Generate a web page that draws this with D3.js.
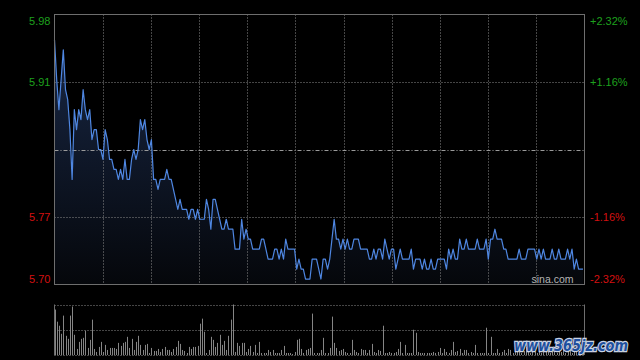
<!DOCTYPE html>
<html>
<head>
<meta charset="utf-8">
<script src="https://cdn.jsdelivr.net/npm/d3@7"></script>
<style>
  html, body { margin: 0; padding: 0; background: #000; }
  svg { display: block; }
</style>
</head>
<body>
<div id="chart"></div>
<script>
// previous close and percentage ticks (left labels are the prices for these)
const prevClose = 5.84
const pctTicks = [2.32, 1.16, -1.16, -2.32]

// one price per minute, 241 minutes
const prices = [
  5.95, 5.91, 5.88, 5.91, 5.94, 5.90, 5.89, 5.86, 5.81, 5.88,
  5.86, 5.88, 5.87, 5.90, 5.88, 5.87, 5.88, 5.85, 5.86, 5.86,
  5.84, 5.84, 5.83, 5.86, 5.85, 5.83, 5.83, 5.82, 5.82, 5.81,
  5.82, 5.81, 5.83, 5.81, 5.81, 5.83, 5.84, 5.83, 5.84, 5.87,
  5.86, 5.87, 5.85, 5.84, 5.85, 5.81, 5.81, 5.80, 5.81, 5.81,
  5.81, 5.82, 5.81, 5.81, 5.80, 5.79, 5.78, 5.79, 5.78, 5.78,
  5.78, 5.77, 5.78, 5.78, 5.77, 5.78, 5.77, 5.77, 5.77, 5.79,
  5.78, 5.76, 5.79, 5.79, 5.78, 5.77, 5.76, 5.76, 5.77, 5.76,
  5.76, 5.76, 5.74, 5.74, 5.74, 5.77, 5.75, 5.76, 5.75, 5.75,
  5.74, 5.74, 5.74, 5.74, 5.75, 5.75, 5.74, 5.73, 5.73, 5.73,
  5.74, 5.74, 5.73, 5.74, 5.73, 5.75, 5.74, 5.74, 5.74, 5.74,
  5.72, 5.73, 5.72, 5.72, 5.71, 5.71, 5.71, 5.73, 5.73, 5.73,
  5.72, 5.71, 5.73, 5.73, 5.72, 5.73, 5.75, 5.77, 5.75, 5.75,
  5.74, 5.75, 5.74, 5.75, 5.74, 5.74, 5.75, 5.75, 5.75, 5.74,
  5.74, 5.74, 5.74, 5.73, 5.73, 5.74, 5.73, 5.74, 5.74, 5.73,
  5.75, 5.74, 5.73, 5.74, 5.74, 5.72, 5.73, 5.74, 5.73, 5.73,
  5.73, 5.73, 5.74, 5.72, 5.73, 5.73, 5.73, 5.72, 5.73, 5.72,
  5.72, 5.73, 5.72, 5.72, 5.73, 5.73, 5.73, 5.73, 5.72, 5.74,
  5.73, 5.74, 5.73, 5.73, 5.75, 5.74, 5.74, 5.75, 5.74, 5.74,
  5.74, 5.74, 5.75, 5.74, 5.74, 5.74, 5.75, 5.73, 5.75, 5.75,
  5.76, 5.75, 5.75, 5.75, 5.74, 5.74, 5.73, 5.73, 5.73, 5.73,
  5.73, 5.74, 5.73, 5.73, 5.73, 5.74, 5.74, 5.74, 5.74, 5.73,
  5.74, 5.73, 5.74, 5.73, 5.73, 5.73, 5.74, 5.73, 5.73, 5.74,
  5.73, 5.73, 5.73, 5.74, 5.73, 5.74, 5.72, 5.73, 5.72, 5.72,
  5.72
]

// volume per minute (relative units)
const volumes = [
  45, 33, 29, 21, 39, 19, 16, 39, 48, 20,
  6, 13, 16, 17, 24, 7, 15, 35, 6, 3,
  8, 13, 3, 10, 5, 7, 7, 7, 6, 12,
  9, 12, 13, 18, 7, 16, 5, 13, 19, 10,
  5, 10, 11, 2, 7, 4, 4, 6, 3, 6,
  8, 5, 5, 3, 6, 8, 14, 11, 5, 4,
  2, 8, 6, 8, 8, 9, 31, 36, 23, 2,
  5, 18, 15, 8, 12, 20, 10, 14, 5, 19,
  35, 50, 3, 12, 9, 12, 12, 3, 6, 9,
  3, 10, 2, 13, 2, 2, 2, 5, 3, 5,
  2, 2, 2, 5, 9, 2, 2, 2, 1, 3,
  15, 16, 6, 2, 5, 6, 7, 41, 2, 2,
  2, 5, 17, 2, 2, 7, 38, 12, 7, 4,
  5, 6, 3, 2, 2, 15, 5, 3, 2, 6,
  5, 5, 2, 5, 11, 3, 2, 5, 4, 29,
  2, 2, 3, 2, 2, 3, 6, 13, 2, 10,
  2, 2, 2, 25, 22, 3, 2, 2, 2, 2,
  2, 2, 3, 2, 3, 7, 2, 6, 3, 2,
  5, 13, 3, 4, 6, 2, 5, 5, 2, 3,
  2, 10, 2, 2, 2, 2, 27, 2, 18, 2,
  2, 6, 2, 3, 5, 2, 6, 5, 2, 3,
  3, 5, 2, 4, 8, 3, 2, 6, 3, 2,
  5, 2, 4, 3, 6, 2, 3, 5, 2, 4,
  3, 7, 2, 3, 5, 2, 4, 6, 3, 5,
  9
]

const width = 640
const height = 360
const plotLeft = 54.5, plotRight = 584.5
const plotTop = 14.5, plotBottom = 284.5
const volTop = 304.5, volBottom = 355

const svg = d3.select("#chart").append("svg")
  .attr("width", width)
  .attr("height", height)
  .style("background", "#000")

const x = d3.scaleLinear() // minute index -> x
  .domain([0, prices.length - 1])
  .range([plotLeft, 583])

const y = d3.scaleLinear() // price -> y, symmetric around previous close
  .domain([prevClose * (1 - pctTicks[0] / 100), prevClose * (1 + pctTicks[0] / 100)])
  .range([plotBottom, plotTop])

const yVol = d3.scaleLinear()
  .domain([0, d3.max(volumes)])
  .range([volBottom, volTop])

const pctToPrice = (p) => prevClose * (1 + p / 100)

// gradient under the price line
const grad = svg.append("defs").append("linearGradient")
  .attr("id", "areaFill")
  .attr("gradientUnits", "userSpaceOnUse")
  .attr("x1", 0).attr("y1", plotTop)
  .attr("x2", 0).attr("y2", plotBottom)
grad.append("stop").attr("offset", "0%").attr("stop-color", "#1a2a4a")
grad.append("stop").attr("offset", "100%").attr("stop-color", "#05070b")

// AREA + LINE
svg.append("path")
  .datum(prices)
  .attr("fill", "url(#areaFill)")
  .attr("d", d3.area()
    .x((d, i) => x(i))
    .y0(plotBottom)
    .y1((d) => y(d)))

// vertical grid
const cols = 11
const colStep = (plotRight - plotLeft) / cols
svg.append("g").selectAll("line")
  .data(d3.range(1, cols))
  .enter().append("line")
  .attr("x1", (k) => Math.round(plotLeft + k * colStep) + 0.5)
  .attr("x2", (k) => Math.round(plotLeft + k * colStep) + 0.5)
  .attr("y1", plotTop)
  .attr("y2", plotBottom)
  .attr("stroke", "#8a8a8a")
  .attr("stroke-dasharray", "1,2")

// horizontal dotted grid at +-1.16%
svg.append("g").selectAll("line")
  .data(pctTicks.filter((p) => Math.abs(p) < pctTicks[0]))
  .enter().append("line")
  .attr("x1", plotLeft)
  .attr("x2", plotRight)
  .attr("y1", (p) => Math.round(y(pctToPrice(p))) + 0.5)
  .attr("y2", (p) => Math.round(y(pctToPrice(p))) + 0.5)
  .attr("stroke", "#8a8a8a")
  .attr("stroke-dasharray", "1,2")

// previous close line
svg.append("line")
  .attr("x1", plotLeft)
  .attr("x2", plotRight)
  .attr("y1", Math.round(y(prevClose)) + 0.5)
  .attr("y2", Math.round(y(prevClose)) + 0.5)
  .attr("stroke", "#9a9a9a")
  .attr("stroke-dasharray", "4,2,1,2")

svg.append("path")
  .datum(prices)
  .attr("fill", "none")
  .attr("stroke", "#4f87e2")
  .attr("stroke-width", 1.2)
  .attr("stroke-linejoin", "round")
  .attr("d", d3.line()
    .x((d, i) => x(i))
    .y((d) => y(d)))

// frame
svg.append("rect")
  .attr("x", plotLeft).attr("y", plotTop)
  .attr("width", plotRight - plotLeft)
  .attr("height", plotBottom - plotTop)
  .attr("fill", "none")
  .attr("stroke", "#6e6e6e")

// LABELS
const labelY = (p) => {
  const ly = y(pctToPrice(p))
  if (p === pctTicks[0]) return ly + 10
  if (p === pctTicks[pctTicks.length - 1]) return ly - 1.5
  return ly + 4
}
const labelColor = (p) => p > 0 ? "#1ea01e" : "#d41010"

svg.append("g").selectAll("text")
  .data(pctTicks)
  .enter().append("text")
  .attr("x", 50.5)
  .attr("y", labelY)
  .attr("text-anchor", "end")
  .attr("font-family", "Arial, 'Liberation Sans', sans-serif")
  .attr("font-size", 11)
  .attr("fill", labelColor)
  .text((p) => pctToPrice(p).toFixed(2))

svg.append("g").selectAll("text")
  .data(pctTicks)
  .enter().append("text")
  .attr("x", 590)
  .attr("y", labelY)
  .attr("font-family", "Arial, 'Liberation Sans', sans-serif")
  .attr("font-size", 11)
  .attr("fill", labelColor)
  .text((p) => (p > 0 ? "+" : "") + p.toFixed(2) + "%")

svg.append("text")
  .attr("x", 573.5)
  .attr("y", 283)
  .attr("text-anchor", "end")
  .attr("font-family", "Arial, 'Liberation Sans', sans-serif")
  .attr("font-size", 10.5)
  .attr("fill", "#b4b4b4")
  .text("sina.com")

// VOLUME PANEL
;[volTop, (volTop + volBottom) / 2, volBottom].forEach((ly) => {
  svg.append("line")
    .attr("x1", plotLeft).attr("x2", plotRight)
    .attr("y1", Math.round(ly) + 0.5).attr("y2", Math.round(ly) + 0.5)
    .attr("stroke", "#8a8a8a")
    .attr("stroke-dasharray", "1,2")
})
;[plotLeft, plotRight].forEach((lx) => {
  svg.append("line")
    .attr("x1", lx).attr("x2", lx)
    .attr("y1", volTop).attr("y2", volBottom)
    .attr("stroke", "#6e6e6e")
})

svg.append("g").selectAll("rect")
  .data(volumes)
  .enter().append("rect")
  .attr("x", (d, i) => Math.round(x(i)))
  .attr("y", (d) => yVol(d))
  .attr("width", 1)
  .attr("height", (d) => volBottom - yVol(d))
  .attr("fill", "#858585")

// watermark
svg.append("text")
  .attr("x", 514)
  .attr("y", 351)
  .attr("textLength", 114)
  .attr("lengthAdjust", "spacingAndGlyphs")
  .attr("font-family", "'DejaVu Sans', sans-serif")
  .attr("font-size", 16)
  .attr("font-weight", "bold")
  .attr("font-style", "italic")
  .attr("fill", "#1e4f9e")
  .attr("stroke", "#c9d3e3")
  .attr("stroke-width", 2.5)
  .attr("paint-order", "stroke")
  .text("www.365jz.com")
</script>
</body>
</html>
